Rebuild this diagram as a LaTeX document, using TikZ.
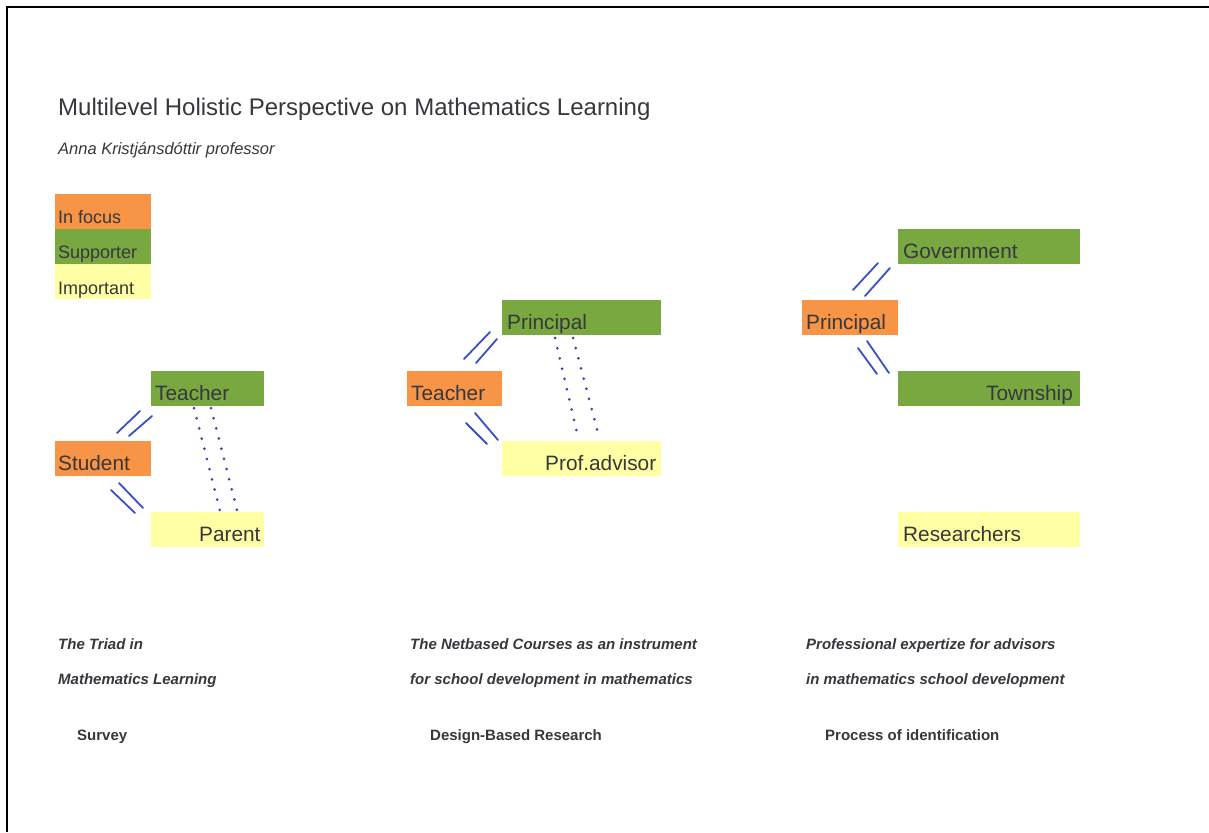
\documentclass[tikz,border=0pt]{standalone}
\usepackage{fontspec}
\setmainfont{Liberation Sans}
\usetikzlibrary{positioning}

\definecolor{focus}{RGB}{247,148,70}
\definecolor{support}{RGB}{121,168,64}
\definecolor{important}{RGB}{255,255,163}
\definecolor{stroke}{RGB}{58,78,200}
\definecolor{dotblue}{RGB}{60,70,170}
\definecolor{ink}{RGB}{55,55,62}

\begin{document}
\begin{tikzpicture}[x=1pt,y=-1pt,
  box/.style={anchor=north west,inner sep=0pt,minimum height=35pt},
  infocus/.style={box,fill=focus},
  supporter/.style={box,fill=support},
  important/.style={box,fill=important},
  lbl/.style={anchor=base west,inner sep=0pt,text=ink,font=\fontsize{20.8}{24}\selectfont},
  key/.style={lbl,font=\fontsize{18}{21}\selectfont},
  caption/.style={anchor=base west,inner sep=0pt,text=ink,font=\fontsize{15}{18}\selectfont\bfseries\itshape},
  method/.style={anchor=base west,inner sep=0pt,text=ink,font=\fontsize{15}{18}\selectfont\bfseries},
  link/.style={draw=stroke,line width=1.8pt,line cap=round},
  tie/.style={draw=dotblue,line width=3pt,line cap=round,dash pattern=on 0pt off 10.5pt}]
  \useasboundingbox (0,0) rectangle (1209,832);
  \fill[white] (0,0) rectangle (1209,832);
  % frame edges
  \draw[line width=2.4pt] (7,832) -- (7,7) -- (1209,7);

  % heading
  \node[anchor=base west,inner sep=0pt,text=ink,font=\fontsize{24}{28}\selectfont] (title) at (58,116) {Multilevel Holistic Perspective on Mathematics Learning};
  \node[anchor=base west,inner sep=0pt,text=ink,font=\fontsize{16.5}{20}\selectfont\itshape] (author) at (58,154) {Anna Kristjánsdóttir professor};

  % legend
  \node[infocus,minimum width=96pt] (keyF) at (55,194) {};
  \node[supporter,minimum width=96pt] (keyS) at (55,229) {};
  \node[important,minimum width=96pt] (keyI) at (55,264) {};
  \node[key] (keyFt) at (58,223) {In focus};
  \node[key] (keySt) at (58,258) {Supporter};
  \node[key] (keyIt) at (58,294) {Important};

  % triad
  \node[supporter,minimum width=113pt] (teaA) at (151,371) {};
  \node[infocus,minimum width=96pt] (stuA) at (55,441) {};
  \node[important,minimum width=113pt] (parA) at (151,512) {};
  \node[lbl] (teaAt) at (155,400) {Teacher};
  \node[lbl] (stuAt) at (58,470) {Student};
  \node[lbl] (parAt) at (199,541) {Parent};

  \coordinate (a1) at (117,433); \coordinate (a2) at (140,411);
  \coordinate (a3) at (129,436); \coordinate (a4) at (152,416);
  \coordinate (a5) at (119,483); \coordinate (a6) at (143,508);
  \coordinate (a7) at (111,490); \coordinate (a8) at (135,513);
  \draw[link] (a1) -- (a2);
  \draw[link] (a3) -- (a4);
  \draw[link] (a5) -- (a6);
  \draw[link] (a7) -- (a8);
  \coordinate (a9) at (194,408); \coordinate (a10) at (220,511);
  \coordinate (a11) at (211,408); \coordinate (a12) at (237,510);
  \draw[tie] (a9) -- (a10);
  \draw[tie] (a11) -- (a12);

  % netbased courses
  \node[supporter,minimum width=159pt] (priB) at (502,300) {};
  \node[infocus,minimum width=95pt] (teaB) at (407,371) {};
  \node[important,minimum width=159pt] (advB) at (502,441) {};
  \node[lbl] (priBt) at (507,329) {Principal};
  \node[lbl] (teaBt) at (411,400) {Teacher};
  \node[lbl] (advBt) at (545,470) {Prof.advisor};

  \coordinate (b1) at (464,359); \coordinate (b2) at (490,332);
  \coordinate (b3) at (476,363); \coordinate (b4) at (497,339);
  \coordinate (b5) at (475,413); \coordinate (b6) at (498,440);
  \coordinate (b7) at (466,423); \coordinate (b8) at (487,444);
  \draw[link] (b1) -- (b2);
  \draw[link] (b3) -- (b4);
  \draw[link] (b5) -- (b6);
  \draw[link] (b7) -- (b8);
  \coordinate (b9) at (555,338); \coordinate (b10) at (578,437);
  \coordinate (b11) at (573,338); \coordinate (b12) at (599,437);
  \draw[tie] (b9) -- (b10);
  \draw[tie] (b11) -- (b12);

  % advisors
  \node[supporter,minimum width=182pt] (govC) at (898,229) {};
  \node[infocus,minimum width=96pt] (priC) at (802,300) {};
  \node[supporter,minimum width=182pt] (towC) at (898,371) {};
  \node[important,minimum width=182pt] (resC) at (898,512) {};
  \node[lbl] (govCt) at (903,258) {Government};
  \node[lbl] (priCt) at (806,329) {Principal};
  \node[lbl] (towCt) at (986,400) {Township};
  \node[lbl] (resCt) at (903,541) {Researchers};

  \coordinate (c1) at (853,290); \coordinate (c2) at (878,263);
  \coordinate (c3) at (865,296); \coordinate (c4) at (890,268);
  \coordinate (c5) at (867,341); \coordinate (c6) at (889,373);
  \coordinate (c7) at (858,348); \coordinate (c8) at (877,374);
  \draw[link] (c1) -- (c2);
  \draw[link] (c3) -- (c4);
  \draw[link] (c5) -- (c6);
  \draw[link] (c7) -- (c8);

  % captions
  \node[caption] (capA1) at (58,649) {The Triad in};
  \node[caption] (capA2) at (58,684) {Mathematics Learning};
  \node[caption] (capB1) at (410,649) {The Netbased Courses as an instrument};
  \node[caption] (capB2) at (410,684) {for school development in mathematics};
  \node[caption] (capC1) at (806,649) {Professional expertize for advisors};
  \node[caption] (capC2) at (806,684) {in mathematics school development};
  \node[method] (metA) at (77,740) {Survey};
  \node[method] (metB) at (430,740) {Design-Based Research};
  \node[method] (metC) at (825,740) {Process of identification};
\end{tikzpicture}
\end{document}
